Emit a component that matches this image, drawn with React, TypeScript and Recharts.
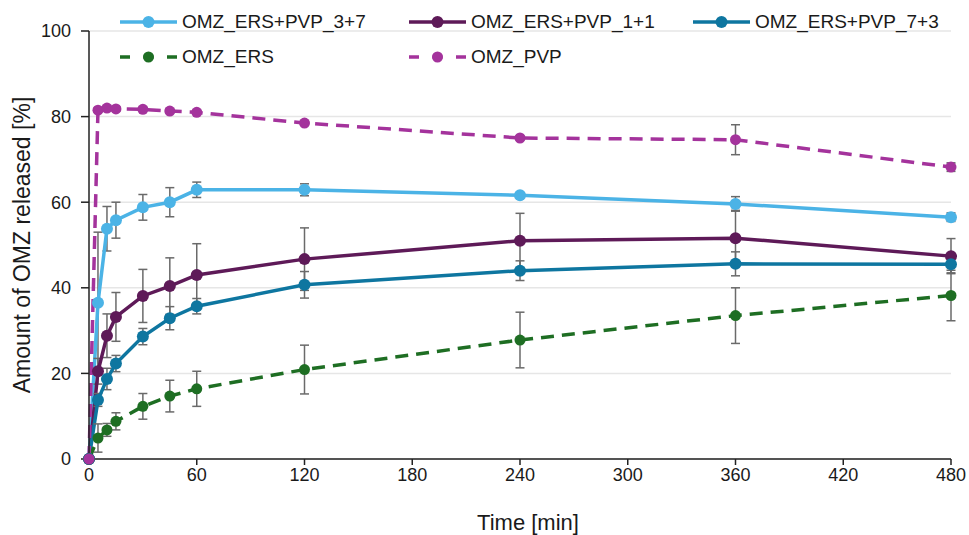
import React from 'react';
import { LineChart, Line, XAxis, YAxis, CartesianGrid, ErrorBar, Legend } from 'recharts';

// time points [min]
const times = [0, 5, 10, 15, 30, 45, 60, 120, 240, 360, 480];

const ers37 = [0, 36.5, 53.8, 55.8, 58.8, 60.0, 62.9, 62.9, 61.6, 59.6, 56.5];
const ers37Err = [0, 16.5, 5.2, 4.2, 3.0, 3.4, 1.8, 1.4, 0.6, 1.7, 1.0];

const ers11 = [0, 20.5, 28.8, 33.2, 38.1, 40.4, 43.0, 46.7, 51.0, 51.6, 47.4];
const ers11Err = [0, 3.0, 5.1, 5.7, 6.2, 6.6, 7.3, 7.3, 6.4, 6.5, 4.1];

const ers73 = [0, 13.8, 18.7, 22.3, 28.6, 32.9, 35.7, 40.7, 44.0, 45.6, 45.5];
const ers73Err = [0, 1.5, 2.5, 1.9, 1.9, 2.7, 1.8, 3.1, 2.3, 2.8, 2.0];

const ers = [0, 4.9, 6.8, 8.8, 12.3, 14.7, 16.4, 20.9, 27.8, 33.5, 38.2];
const ersErr = [0, 3.3, 1.5, 2.0, 3.0, 3.7, 4.1, 5.7, 6.5, 6.5, 5.9];

const pvp = [0, 81.5, 82.0, 81.8, 81.7, 81.3, 81.0, 78.5, 75.0, 74.6, 68.2];
const pvpErr = [0, 0.5, 0.5, 0.5, 0.5, 0.5, 0.5, 0.5, 0.5, 3.5, 1.0];

const xTicks = [0, 60, 120, 180, 240, 300, 360, 420, 480];
const yTicks = [0, 20, 40, 60, 80, 100];

const data = times.map((t, i) => ({
  t,
  s37: ers37[i], s37e: ers37Err[i],
  s11: ers11[i], s11e: ers11Err[i],
  s73: ers73[i], s73e: ers73Err[i],
  ers: ers[i], erse: ersErr[i],
  pvp: pvp[i], pvpe: pvpErr[i],
}));

const FONT = '"Liberation Sans", Arial, sans-serif';

const series = [
  { key: 's37', err: 's37e', name: 'OMZ_ERS+PVP_3+7', color: '#4BB3E6', dashed: false },
  { key: 's11', err: 's11e', name: 'OMZ_ERS+PVP_1+1', color: '#5E1A58', dashed: false },
  { key: 's73', err: 's73e', name: 'OMZ_ERS+PVP_7+3', color: '#0E76A0', dashed: false },
  { key: 'ers', err: 'erse', name: 'OMZ_ERS', color: '#1E6E23', dashed: true },
  { key: 'pvp', err: 'pvpe', name: 'OMZ_PVP', color: '#A4339C', dashed: true },
];

const legendPos = [
  { x: 120, y: 22 },
  { x: 409, y: 22 },
  { x: 693, y: 22 },
  { x: 120, y: 57 },
  { x: 409, y: 57 },
];

const renderLegend = () => (
  <div style={{ position: 'relative', width: 969, height: 75 }}>
    {series.map((s, i) => (
      <div
        key={s.key}
        style={{
          position: 'absolute',
          left: legendPos[i].x,
          top: legendPos[i].y - 10,
          height: 20,
          display: 'flex',
          alignItems: 'center',
          fontFamily: FONT,
          fontSize: 19,
          color: '#1a1a1a',
          whiteSpace: 'nowrap',
        }}
      >
        <svg width={57} height={16} style={{ marginRight: 5 }}>
          <line
            x1={0} y1={8} x2={57} y2={8}
            stroke={s.color} strokeWidth={3.5}
            strokeDasharray={s.dashed ? '10 13.5' : undefined}
          />
          <circle cx={28.5} cy={8} r={s.dashed ? 5.5 : 6} fill={s.color} />
        </svg>
        <span>{s.name}</span>
      </div>
    ))}
  </div>
);

export default function App() {
  return (
    <div style={{ position: 'absolute', left: 0, top: 0, width: 969, height: 535, background: '#fff' }}>
      <LineChart width={969} height={535} data={data} margin={{ top: 31, right: 18, bottom: 0, left: 0 }}>
        <CartesianGrid vertical={false} stroke="#e6e6e6" strokeWidth={1.5} />
        <XAxis
          dataKey="t"
          type="number"
          domain={[0, 480]}
          ticks={xTicks}
          height={76}
          stroke="#222"
          strokeWidth={1.5}
          tickSize={6}
          tickMargin={3}
          tick={{ fill: '#1a1a1a', fontSize: 18, fontFamily: FONT }}
          label={{ value: 'Time [min]', position: 'insideBottom', offset: 5, dx: 8, fill: '#1a1a1a', fontSize: 22, fontFamily: FONT }}
        />
        <YAxis
          type="number"
          domain={[0, 100]}
          ticks={yTicks}
          width={89}
          stroke="#222"
          strokeWidth={1.5}
          tickSize={8}
          tickMargin={10}
          tick={{ fill: '#1a1a1a', fontSize: 18, fontFamily: FONT }}
          label={{
            value: 'Amount of OMZ released [%]',
            angle: -90,
            position: 'insideLeft',
            offset: 22,
            style: { textAnchor: 'middle' },
            fill: '#1a1a1a',
            fontSize: 23,
            fontFamily: FONT,
          }}
        />
        <Legend layout="vertical" align="center" verticalAlign="middle" content={renderLegend}
          wrapperStyle={{ top: 0, left: 0, width: 969 }} />
        {series.map((s) => (
          <Line
            key={s.key}
            dataKey={s.key}
            name={s.name}
            stroke={s.color}
            strokeWidth={3.5}
            strokeDasharray={s.dashed ? '13 8' : undefined}
            dot={{ r: s.dashed ? 5.5 : 6, fill: s.color, stroke: 'none', strokeDasharray: '' }}
            isAnimationActive={false}
          >
            <ErrorBar dataKey={s.err} direction="y" width={4.5} stroke="#6a6a6a" strokeWidth={1.5} isAnimationActive={false} />
          </Line>
        ))}
      </LineChart>
    </div>
  );
}
